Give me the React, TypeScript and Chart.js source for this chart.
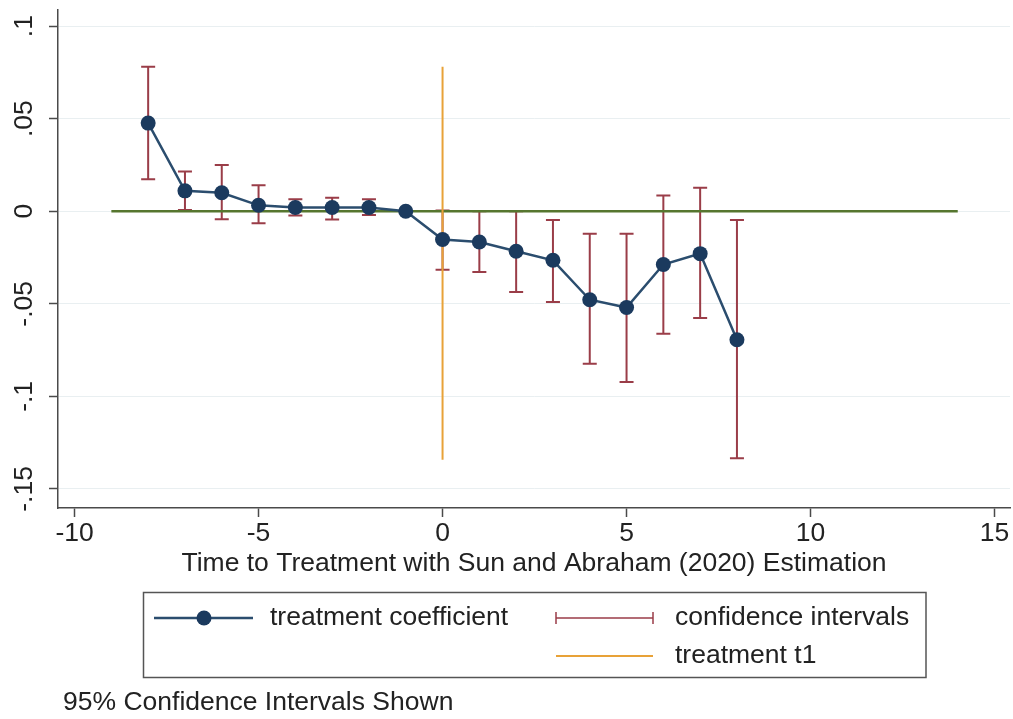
import React, { useEffect, useRef } from "react";
import { Chart, registerables } from "chart.js";

Chart.register(...registerables);

// ---- data ----
const periods = [-8, -7, -6, -5, -4, -3, -2, -1, 0, 1, 2, 3, 4, 5, 6, 7, 8];
const coefficients = [0.0476, 0.011, 0.010, 0.0032, 0.002, 0.002, 0.002, 0, -0.0153, -0.0166, -0.0216, -0.0265, -0.0478, -0.052, -0.0288, -0.0229, -0.0694];
const ciLower: (number | null)[] = [0.0173, 0.0007, -0.0043, -0.0065, -0.0023, -0.0045, -0.002, null, -0.0316, -0.0328, -0.0436, -0.049, -0.0824, -0.0923, -0.0662, -0.0577, -0.1334];
const ciUpper: (number | null)[] = [0.078, 0.0214, 0.025, 0.014, 0.0065, 0.0073, 0.0065, null, 0.0004, 0, 0, -0.0047, -0.0122, -0.0122, 0.0085, 0.0127, -0.0047];
const zeroLineX = [-9, 14];
const treatmentX = 0;
const treatmentYRange = [-0.1343, 0.078];
const xTicks = [-10, -5, 0, 5, 10, 15];
const xTickLabels = ["-10", "-5", "0", "5", "10", "15"];
const yTicks = [-0.15, -0.1, -0.05, 0, 0.05, 0.1];
const yTickLabels = ["-.15", "-.1", "-.05", "0", ".05", ".1"];
const xTitle = "Time to Treatment with Sun and Abraham (2020) Estimation";
const legendLabels = ["treatment coefficient", "confidence intervals", "treatment t1"];
const noteText = "95% Confidence Intervals Shown";

const FONT = "'Liberation Sans', Arial, Helvetica, sans-serif";
const FS = 26.5;
const TEXT = "#222222";
const AXIS = "#4a4a4a";
const NAVY_LINE = "#2b4d6e";
const NAVY_DOT = "#1b3a5e";
const MAROON = "#9a3d48";
const GREEN = "#56762f";
const ORANGE = "#e8a238";

const ciPlugin = {
  id: "ciBars",
  beforeDatasetsDraw(chart: any) {
    const { ctx, scales } = chart;
    const x = scales.x, y = scales.y;
    ctx.save();
    ctx.strokeStyle = MAROON;
    ctx.lineWidth = 2;
    periods.forEach((p, i) => {
      const lo = ciLower[i], hi = ciUpper[i];
      if (lo == null || hi == null) return;
      const px = x.getPixelForValue(p);
      const y1 = y.getPixelForValue(lo);
      const y2 = y.getPixelForValue(hi);
      ctx.beginPath();
      ctx.moveTo(px, y1); ctx.lineTo(px, y2);
      ctx.moveTo(px - 7, y1); ctx.lineTo(px + 7, y1);
      ctx.moveTo(px - 7, y2); ctx.lineTo(px + 7, y2);
      ctx.stroke();
    });
    ctx.restore();
  },
};

const decorPlugin = {
  id: "decor",
  afterDraw(chart: any) {
    const { ctx, scales } = chart;
    const y = scales.y;
    ctx.save();
    ctx.fillStyle = TEXT;
    ctx.font = `${FS}px ${FONT}`;
    // rotated y tick labels
    yTicks.forEach((v, i) => {
      const py = y.getPixelForValue(v);
      ctx.save();
      ctx.translate(25, py);
      ctx.rotate(-Math.PI / 2);
      ctx.textAlign = "center";
      ctx.textBaseline = "middle";
      ctx.fillText(yTickLabels[i], 0, 0);
      ctx.restore();
    });

    // legend box
    ctx.strokeStyle = "#555555";
    ctx.lineWidth = 1.5;
    ctx.strokeRect(143.5, 592.5, 782.5, 85);

    const r1 = 618, r2 = 656;
    // item 1: line with dot
    ctx.strokeStyle = NAVY_LINE;
    ctx.lineWidth = 2.5;
    ctx.beginPath(); ctx.moveTo(154, r1); ctx.lineTo(253, r1); ctx.stroke();
    ctx.fillStyle = NAVY_DOT;
    ctx.beginPath(); ctx.arc(204, r1, 7.5, 0, Math.PI * 2); ctx.fill();
    // item 2: capped line
    ctx.strokeStyle = MAROON;
    ctx.lineWidth = 1.5;
    ctx.beginPath();
    ctx.moveTo(556, r1); ctx.lineTo(653, r1);
    ctx.moveTo(556, r1 - 6); ctx.lineTo(556, r1 + 6);
    ctx.moveTo(653, r1 - 6); ctx.lineTo(653, r1 + 6);
    ctx.stroke();
    // item 3: orange line
    ctx.strokeStyle = ORANGE;
    ctx.lineWidth = 2;
    ctx.beginPath(); ctx.moveTo(556, r2); ctx.lineTo(653, r2); ctx.stroke();

    ctx.fillStyle = TEXT;
    ctx.textAlign = "left";
    ctx.textBaseline = "middle";
    ctx.fillText(legendLabels[0], 270, r1);
    ctx.fillText(legendLabels[1], 675, r1);
    ctx.fillText(legendLabels[2], 675, r2);

    // note
    ctx.fillText(noteText, 63, 703);
    ctx.restore();
  },
};

export default function App() {
  const ref = useRef<HTMLCanvasElement | null>(null);

  useEffect(() => {
    if (!ref.current) return;
    const chart = new Chart(ref.current, {
      type: "line",
      data: {
        datasets: [
          {
            label: legendLabels[0],
            data: periods.map((p, i) => ({ x: p, y: coefficients[i] })),
            borderColor: NAVY_LINE,
            borderWidth: 2.5,
            pointRadius: 7.5,
            pointBackgroundColor: NAVY_DOT,
            pointBorderWidth: 0,
            tension: 0,
            order: 1,
          },
          {
            label: legendLabels[2],
            data: treatmentYRange.map((v) => ({ x: treatmentX, y: v })),
            borderColor: ORANGE,
            borderWidth: 2,
            pointRadius: 0,
            order: 2,
          },
          {
            label: "zero",
            data: zeroLineX.map((v) => ({ x: v, y: 0 })),
            borderColor: GREEN,
            borderWidth: 2.5,
            pointRadius: 0,
            order: 3,
          },
        ],
      },
      options: {
        responsive: false,
        animation: false,
        devicePixelRatio: 1,
        layout: { autoPadding: false, padding: { left: 0, right: 3, top: 10, bottom: 137.7 } },
        plugins: { legend: { display: false }, tooltip: { enabled: false } },
        scales: {
          x: {
            type: "linear",
            min: -10.45,
            max: 15.42,
            afterBuildTicks: (s: any) => { s.ticks = xTicks.map((v) => ({ value: v })); },
            afterFit: (s: any) => { s.paddingLeft = 0; s.paddingRight = 0; },
            ticks: {
              font: { family: FONT, size: FS },
              color: TEXT,
              padding: 1,
              maxRotation: 0,
              callback: (v: any) => {
                const i = xTicks.indexOf(Number(v));
                return i >= 0 ? xTickLabels[i] : "";
              },
            },
            grid: { display: true, drawOnChartArea: false, drawTicks: true, tickLength: 9, tickColor: AXIS, tickWidth: 1.5 },
            border: { display: true, color: AXIS, width: 1.5 },
            title: {
              display: true,
              text: xTitle,
              font: { family: FONT, size: FS, lineHeight: 1 },
              color: TEXT,
              padding: { top: 0, bottom: 4 },
            },
          },
          y: {
            type: "linear",
            min: -0.1603,
            max: 0.1087,
            afterBuildTicks: (s: any) => { s.ticks = yTicks.map((v) => ({ value: v })); },
            afterFit: (s: any) => { s.width = 58; s.paddingTop = 0; s.paddingBottom = 0; },
            ticks: { color: "rgba(0,0,0,0)", font: { family: FONT, size: 2 } },
            grid: { color: "#e9eff1", lineWidth: 1, drawTicks: true, tickLength: 9, tickColor: AXIS, tickWidth: 1.5 },
            border: { display: true, color: AXIS, width: 1.5 },
          },
        },
      },
      plugins: [ciPlugin, decorPlugin],
    } as any);
    return () => chart.destroy();
  }, []);

  return (
    <div style={{ position: "fixed", left: 0, top: 0, width: 1013, height: 719, background: "#ffffff" }}>
      <canvas ref={ref} width={1013} height={719} style={{ width: 1013, height: 719, display: "block" }} />
    </div>
  );
}
